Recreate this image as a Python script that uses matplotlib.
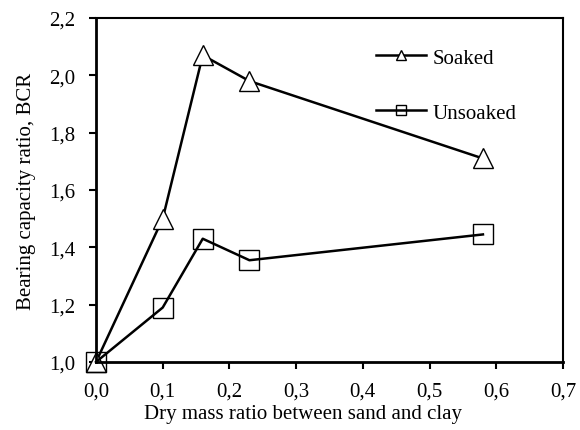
import numpy as np
import matplotlib.pyplot as plt
from matplotlib.ticker import FuncFormatter

plt.rcParams['font.family'] = ['Liberation Serif', 'DejaVu Serif']

ratio = [0.0, 0.1, 0.16, 0.23, 0.58]
soaked = [1.0, 1.5, 2.07, 1.98, 1.71]
unsoaked = [1.0, 1.19, 1.43, 1.355, 1.445]

x_ticks = np.arange(0, 0.71, 0.1)
y_ticks = np.arange(1.0, 2.21, 0.2)


def comma(v, pos):
    return ('%.1f' % v).replace('.', ',')


fig = plt.figure(figsize=(5.8, 4.31), dpi=100)
ax = fig.add_axes([96 / 580, 1 - 363 / 431, 467 / 580, 344 / 431])

ax.plot(ratio, soaked, color='black', linewidth=1.8, marker='^',
        markersize=15, markerfacecolor='white', markeredgecolor='black',
        markeredgewidth=1, label='Soaked', clip_on=False)
ax.plot(ratio, unsoaked, color='black', linewidth=1.8, marker='s',
        markersize=15, markerfacecolor='none', markeredgecolor='black',
        markeredgewidth=1, label='Unsoaked', clip_on=False)

ax.set_xlim(0, 0.7)
ax.set_ylim(1.0, 2.2)
ax.set_xticks(x_ticks)
ax.set_yticks(y_ticks)
ax.xaxis.set_major_formatter(FuncFormatter(comma))
ax.yaxis.set_major_formatter(FuncFormatter(comma))
ax.tick_params(direction='out', length=5, width=1.5, labelsize=15)
ax.tick_params(axis='x', pad=9)
ax.tick_params(axis='y', pad=10)
for s in ax.spines.values():
    s.set_linewidth(1.5)
ax.spines['bottom'].set_linewidth(2)
ax.spines['left'].set_linewidth(2)

ax.set_xlabel('Dry mass ratio between sand and clay', fontsize=15)
ax.xaxis.set_label_coords(0.443, -0.122)
ax.set_ylabel('Bearing capacity ratio, BCR', fontsize=15, labelpad=9)

leg = ax.legend(loc='upper left', bbox_to_anchor=(0.56, 0.967), frameon=False,
                fontsize=15, handlelength=2.4, markerscale=0.5,
                labelspacing=1.7, handletextpad=0.3)

fig.savefig('out.png', dpi=100)
